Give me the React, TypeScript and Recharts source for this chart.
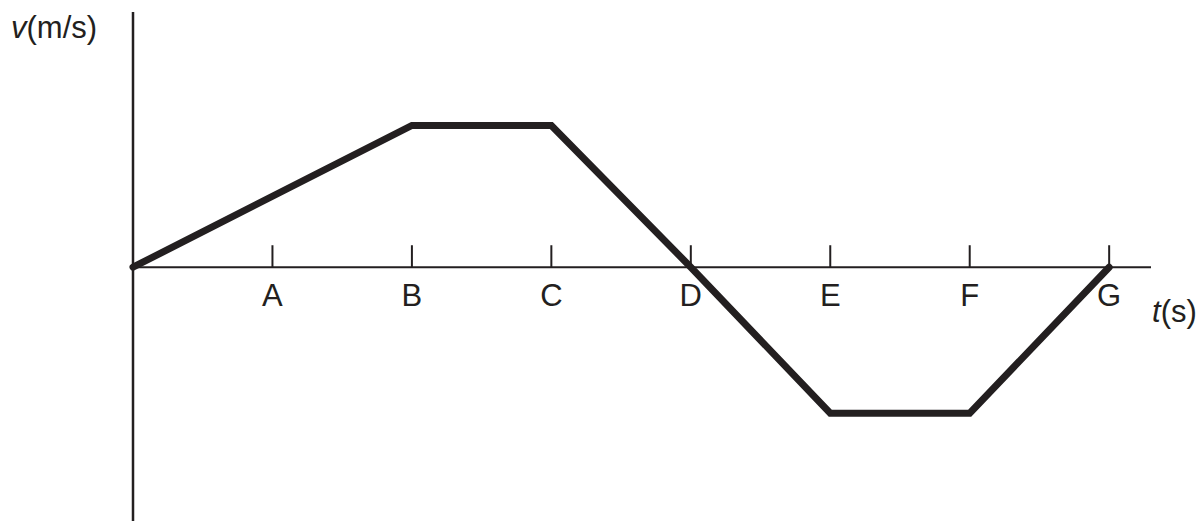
import { Customized, Line, LineChart, ReferenceLine, XAxis, YAxis } from "recharts";

const times = [0, 2, 3, 4, 5, 6, 7];
const velocities = [0, 1, 1, 0, -1.03, -1.03, 0];
const tickLabels = ["A", "B", "C", "D", "E", "F", "G"];

const INK = "#231f20";
const FONT = "Liberation Sans, Arial, sans-serif";

const chartData = times.map((t, i) => ({ t, v: velocities[i] }));

const AxisTitles = () => (
    <g fontFamily={FONT} fontSize={31} fill={INK}>
        <text x={11} y={38}>
            <tspan fontStyle="italic">v</tspan>(m/s)
        </text>
        <text x={1152} y={322}>
            <tspan fontStyle="italic">t</tspan>(s)
        </text>
    </g>
);

export default function App() {
    return (
        <div style={{ position: "fixed", left: 0, top: 0, background: "#fff" }}>
            <LineChart
                width={1204}
                height={521}
                data={chartData}
                margin={{ top: 12, right: 53, left: 133, bottom: 0 }}
            >
                <XAxis dataKey="t" type="number" domain={[0, 7.3]} hide />
                <YAxis type="number" domain={[-1.79, 1.8]} width={0} hide />
                <ReferenceLine x={0} stroke={INK} strokeWidth={2.5} ifOverflow="visible" />
                <ReferenceLine y={0} stroke={INK} strokeWidth={2} ifOverflow="visible" />
                {tickLabels.map((label, i) => (
                    <ReferenceLine
                        key={label}
                        segment={[
                            { x: i + 1, y: 0 },
                            { x: i + 1, y: 0.155 },
                        ]}
                        stroke={INK}
                        strokeWidth={2}
                        ifOverflow="visible"
                        label={{
                            value: label,
                            position: "bottom",
                            offset: 17,
                            fill: INK,
                            fontSize: 31,
                            fontFamily: FONT,
                        }}
                    />
                ))}
                <Line
                    type="linear"
                    dataKey="v"
                    stroke={INK}
                    strokeWidth={7}
                    strokeLinecap="round"
                    strokeLinejoin="miter"
                    dot={false}
                    activeDot={false}
                    isAnimationActive={false}
                />
                <Customized component={AxisTitles} />
            </LineChart>
        </div>
    );
}
